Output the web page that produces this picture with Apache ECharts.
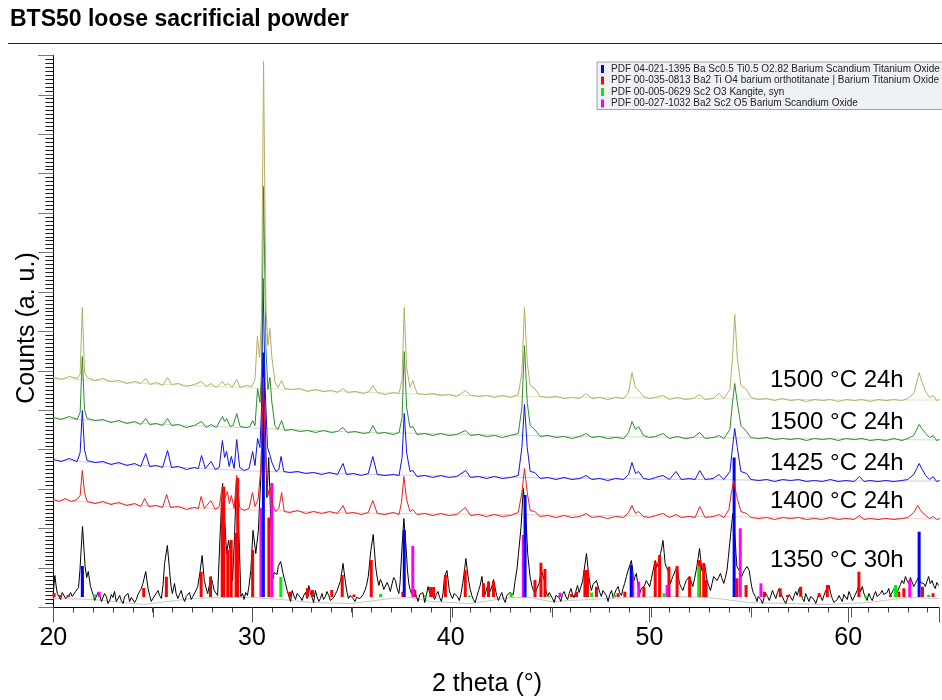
<!DOCTYPE html>
<html><head><meta charset="utf-8">
<script src="https://cdn.jsdelivr.net/npm/echarts@6/dist/echarts.min.js"></script>
<style>html,body{margin:0;padding:0;background:#fff}#c{width:942px;height:700px}</style>
</head><body><div id="c"></div>
<script>
// ---------- DATA ----------
const titleText = 'BTS50 loose sacrificial powder';
const xAxisName = '2 theta (°)';
const yAxisName = 'Counts (a. u.)';
const sampleLabels = ['1500 °C 24h', '1500 °C 24h', '1425 °C 24h', '1400 °C 24h', '1350 °C 30h'];
const refNames = [
  'PDF 04-021-1395 Ba Sc0.5 Ti0.5 O2.82 Barium Scandium Titanium Oxide',
  'PDF 00-035-0813 Ba2 Ti O4 barium orthotitanate | Barium Titanium Oxide',
  'PDF 00-005-0629 Sc2 O3 Kangite, syn',
  'PDF 00-027-1032 Ba2 Sc2 O5 Barium Scandium Oxide'
];
const xMin = 20, xMax = 64.57, xMajor = 10, xMid = 5;
const yMin = 0, yMax = 552.2, yMajor = 39.44;

// pattern 1500 °C 24h (top, olive)
const pat1500a = [[20.0,230],[20.4,228],[20.8,231],[21.2,229],[21.35,233],[21.46,300],[21.57,236],[21.7,230],[22.1,227],[22.5,229],[22.9,226],[23.3,227],[23.7,224],[24.1,226],[24.4,224],[24.65,229],[24.85,223],[25.2,225],[25.5,222],[25.75,230],[25.95,223],[26.3,224],[26.7,221],[27.1,223],[27.46,226],[27.7,221],[27.94,224],[28.2,220],[28.51,226],[28.65,222],[28.8,224],[29.0,220],[29.23,228],[29.4,220],[29.7,222],[30.0,221],[30.15,228],[30.27,271],[30.38,250],[30.48,290],[30.58,546],[30.7,300],[30.8,262],[30.9,279],[31.0,250],[31.15,226],[31.3,220],[31.49,227],[31.65,219],[32.0,218],[32.4,219],[32.8,216],[33.2,218],[33.6,216],[34.0,217],[34.3,215],[34.58,219],[34.8,215],[35.2,216],[35.6,214],[35.9,216],[36.08,222],[36.3,215],[36.7,213],[37.1,215],[37.4,214],[37.55,228],[37.66,300],[37.78,240],[37.95,220],[38.09,227],[38.3,214],[38.7,213],[39.1,214],[39.5,212],[39.9,213],[40.3,211],[40.75,217],[41.0,212],[41.4,211],[41.8,212],[42.2,210],[42.6,212],[43.0,210],[43.4,213],[43.58,235],[43.71,300],[43.85,245],[44.0,222],[44.23,219],[44.5,211],[44.9,210],[45.3,211],[45.7,209],[46.1,210],[46.5,209],[46.81,214],[47.1,209],[47.5,210],[47.9,208],[48.3,210],[48.7,209],[48.95,215],[49.12,235],[49.3,220],[49.5,216],[49.7,211],[50.0,209],[50.3,210],[50.68,212],[51.0,208],[51.4,210],[51.8,208],[52.2,209],[52.53,213],[52.8,208],[53.2,209],[53.49,214],[53.75,209],[54.05,218],[54.18,250],[54.29,293],[54.42,250],[54.6,222],[54.89,218],[55.1,210],[55.5,208],[55.9,209],[56.3,207],[56.7,209],[57.1,207],[57.5,208],[57.9,206],[58.3,208],[58.7,207],[59.1,208],[59.5,206],[59.9,208],[60.3,207],[60.7,208],[61.1,206],[61.5,208],[61.9,207],[62.3,208],[62.7,207],[63.0,209],[63.3,214],[63.45,225],[63.57,235],[63.7,226],[63.9,216],[64.1,210],[64.28,212],[64.45,207],[64.6,208]];
// pattern 1500 °C 24h (second, green)
const pat1500b = [[20.0,190],[20.4,188],[20.8,191],[21.2,188],[21.35,195],[21.46,251],[21.57,198],[21.7,189],[22.1,187],[22.5,188],[22.9,185],[23.3,187],[23.7,184],[24.1,186],[24.4,183],[24.65,189],[24.85,183],[25.2,184],[25.5,182],[25.75,189],[25.95,182],[26.3,183],[26.7,180],[27.1,182],[27.46,186],[27.7,180],[27.94,183],[28.2,180],[28.51,191],[28.62,186],[28.72,189],[28.9,181],[29.05,182],[29.23,194],[29.4,181],[29.7,180],[29.9,181],[30.03,187],[30.15,182],[30.28,219],[30.4,205],[30.49,240],[30.58,421],[30.7,260],[30.8,218],[30.9,230],[31.0,205],[31.15,182],[31.3,178],[31.49,187],[31.65,177],[32.0,178],[32.4,176],[32.8,177],[33.2,175],[33.6,177],[34.0,175],[34.3,176],[34.58,180],[34.8,175],[35.2,176],[35.6,174],[35.9,175],[36.08,182],[36.3,174],[36.7,175],[37.1,173],[37.4,175],[37.55,190],[37.66,256],[37.78,200],[37.95,180],[38.09,181],[38.3,173],[38.7,174],[39.1,172],[39.5,174],[39.9,172],[40.3,173],[40.75,177],[41.0,172],[41.4,173],[41.8,171],[42.2,172],[42.6,170],[43.0,172],[43.4,174],[43.58,200],[43.71,262],[43.85,205],[44.0,182],[44.23,178],[44.5,171],[44.9,172],[45.3,170],[45.7,171],[46.1,169],[46.5,171],[46.81,174],[47.1,170],[47.5,171],[47.9,169],[48.3,170],[48.7,169],[48.95,175],[49.12,186],[49.3,178],[49.45,181],[49.7,172],[50.0,170],[50.3,171],[50.68,174],[51.0,169],[51.4,171],[51.8,169],[52.2,170],[52.53,175],[52.8,169],[53.2,170],[53.49,172],[53.75,169],[54.05,178],[54.18,205],[54.29,224],[54.42,205],[54.6,182],[54.89,176],[55.1,170],[55.5,169],[55.9,170],[56.3,168],[56.7,169],[57.1,168],[57.5,169],[57.9,167],[58.3,169],[58.7,168],[59.1,169],[59.5,167],[59.9,169],[60.3,168],[60.7,169],[61.1,167],[61.5,168],[61.9,167],[62.3,169],[62.7,167],[63.0,169],[63.3,172],[63.45,178],[63.57,183],[63.7,179],[63.9,174],[64.1,170],[64.28,172],[64.45,167],[64.6,168]];
// pattern 1425 °C 24h (blue)
const pat1425 = [[20.0,148],[20.4,146],[20.8,149],[21.2,146],[21.35,155],[21.46,197],[21.57,158],[21.7,147],[22.1,145],[22.5,146],[22.9,143],[23.3,145],[23.7,142],[24.1,144],[24.4,141],[24.65,154],[24.85,141],[25.2,142],[25.5,140],[25.75,157],[25.95,140],[26.3,141],[26.7,138],[27.1,140],[27.3,139],[27.46,152],[27.65,139],[27.94,146],[28.15,138],[28.35,140],[28.51,167],[28.62,150],[28.72,156],[28.85,141],[28.96,151],[29.1,139],[29.23,168],[29.38,140],[29.6,137],[29.85,139],[30.03,156],[30.15,142],[30.28,169],[30.4,160],[30.48,200],[30.55,329],[30.66,220],[30.78,160],[30.88,154],[31.0,145],[31.2,136],[31.35,138],[31.46,151],[31.6,136],[31.9,135],[32.3,136],[32.7,134],[33.1,135],[33.5,133],[33.9,135],[34.3,133],[34.58,144],[34.75,133],[35.1,134],[35.5,132],[35.85,134],[36.08,151],[36.3,133],[36.7,132],[37.1,133],[37.4,132],[37.55,150],[37.66,194],[37.78,155],[37.95,136],[38.09,137],[38.3,131],[38.7,132],[39.1,130],[39.5,132],[39.9,130],[40.3,131],[40.75,137],[41.0,130],[41.4,131],[41.8,129],[42.2,131],[42.6,129],[43.0,130],[43.4,132],[43.58,160],[43.71,203],[43.85,160],[44.0,136],[44.23,135],[44.5,129],[44.9,130],[45.3,128],[45.7,130],[46.1,128],[46.5,129],[46.81,132],[47.1,128],[47.5,129],[47.9,127],[48.3,129],[48.7,128],[48.95,133],[49.12,145],[49.3,134],[49.45,136],[49.7,129],[50.0,128],[50.3,130],[50.68,132],[51.0,128],[51.34,136],[51.6,128],[52.0,129],[52.3,128],[52.53,137],[52.8,128],[53.2,129],[53.49,133],[53.75,128],[54.05,136],[54.18,160],[54.29,179],[54.42,160],[54.6,136],[54.89,134],[55.1,128],[55.5,127],[55.9,128],[56.3,126],[56.7,128],[57.1,127],[57.5,128],[57.9,126],[58.3,127],[58.7,126],[59.1,128],[59.5,126],[59.9,127],[60.3,126],[60.57,131],[60.8,126],[61.1,127],[61.5,126],[61.9,127],[62.3,126],[62.7,127],[63.0,128],[63.3,133],[63.45,139],[63.57,144],[63.7,139],[63.9,132],[64.1,128],[64.28,131],[64.45,126],[64.6,127]];
// pattern 1400 °C 24h (red)
const pat1400 = [[20.0,108],[20.3,106],[20.6,109],[20.9,106],[21.2,108],[21.35,112],[21.46,137],[21.57,115],[21.7,106],[22.1,104],[22.5,106],[22.9,103],[23.3,105],[23.7,102],[24.1,104],[24.4,101],[24.6,109],[24.8,101],[25.2,102],[25.5,100],[25.7,113],[25.9,100],[26.3,101],[26.7,98],[27.1,100],[27.3,99],[27.44,111],[27.6,99],[27.93,107],[28.15,98],[28.35,101],[28.5,121],[28.62,108],[28.76,116],[28.86,104],[28.96,112],[29.1,99],[29.23,132],[29.38,100],[29.6,97],[29.85,99],[30.02,115],[30.15,101],[30.3,108],[30.45,140],[30.57,230],[30.68,150],[30.8,112],[30.9,121],[31.05,102],[31.2,96],[31.35,99],[31.49,115],[31.62,96],[31.9,95],[32.3,97],[32.7,94],[33.1,96],[33.5,94],[33.9,96],[34.3,94],[34.58,102],[34.75,94],[35.1,95],[35.5,93],[35.85,95],[36.08,107],[36.3,94],[36.7,93],[37.1,95],[37.4,93],[37.52,105],[37.64,131],[37.78,108],[37.95,96],[38.09,98],[38.3,93],[38.7,94],[39.1,92],[39.5,94],[39.9,92],[40.3,93],[40.73,100],[41.0,92],[41.4,93],[41.8,91],[42.2,93],[42.6,91],[43.0,92],[43.4,95],[43.58,115],[43.71,139],[43.85,115],[44.0,97],[44.23,96],[44.5,91],[44.9,92],[45.3,90],[45.7,92],[46.1,90],[46.5,91],[46.81,94],[47.1,90],[47.5,91],[47.9,89],[48.3,91],[48.7,90],[48.95,95],[49.12,102],[49.3,94],[49.45,96],[49.7,91],[50.0,90],[50.3,92],[50.68,94],[51.0,90],[51.34,93],[51.6,90],[52.0,91],[52.3,90],[52.53,101],[52.8,90],[53.2,91],[53.49,93],[53.75,90],[54.0,98],[54.12,115],[54.24,127],[54.38,112],[54.6,96],[54.89,94],[55.1,90],[55.5,89],[55.9,90],[56.3,88],[56.7,90],[57.1,89],[57.5,90],[57.9,88],[58.3,89],[58.7,88],[59.1,90],[59.5,88],[59.9,89],[60.3,88],[60.57,92],[60.8,88],[61.1,89],[61.5,88],[61.9,89],[62.3,88],[62.7,89],[63.0,90],[63.3,95],[63.5,102],[63.65,97],[63.9,92],[64.1,89],[64.28,91],[64.45,88],[64.6,89]];
// pattern 1350 °C 30h (black)
const pat1350 = [[20.0,14],[20.04,24],[20.08,32],[20.14,22],[20.2,14],[20.28,11],[20.37,8],[20.45,15],[20.54,13],[20.62,9],[20.7,8],[20.78,12],[20.87,15],[20.95,11],[21.04,9],[21.12,16],[21.2,14],[21.27,20],[21.34,37],[21.47,81],[21.6,41],[21.68,30],[21.76,36],[21.87,21],[22.0,13],[22.08,7],[22.17,9],[22.25,15],[22.34,12],[22.42,6],[22.5,8],[22.58,14],[22.67,11],[22.75,4],[22.84,7],[22.92,13],[23.0,10],[23.08,16],[23.17,6],[23.25,9],[23.34,12],[23.42,7],[23.51,4],[23.59,11],[23.68,9],[23.76,14],[23.84,6],[23.93,10],[24.01,12],[24.09,5],[24.18,8],[24.26,13],[24.35,14],[24.43,19],[24.51,24],[24.65,36],[24.77,19],[24.85,12],[24.93,6],[25.01,9],[25.1,11],[25.18,14],[25.27,17],[25.35,12],[25.44,9],[25.52,22],[25.6,44],[25.74,62],[25.85,37],[25.92,22],[25.99,14],[26.1,24],[26.18,14],[26.27,9],[26.35,13],[26.44,17],[26.52,10],[26.61,6],[26.69,11],[26.77,13],[26.85,15],[26.94,8],[27.02,11],[27.1,12],[27.18,17],[27.27,21],[27.38,35],[27.49,52],[27.6,27],[27.68,20],[27.77,14],[27.85,22],[27.94,31],[28.02,24],[28.1,17],[28.19,15],[28.27,12],[28.39,71],[28.52,124],[28.62,122],[28.72,54],[28.82,67],[28.94,51],[29.02,27],[29.12,71],[29.22,131],[29.32,87],[29.44,11],[29.52,14],[29.6,8],[29.68,15],[29.77,12],[29.85,22],[29.94,37],[30.05,77],[30.19,54],[30.32,77],[30.44,130],[30.52,190],[30.58,250],[30.66,190],[30.75,110],[30.84,150],[30.94,90],[31.05,29],[31.12,35],[31.19,37],[31.26,33],[31.32,41],[31.44,46],[31.56,34],[31.69,24],[31.78,16],[31.86,11],[31.94,6],[32.02,17],[32.1,12],[32.19,8],[32.27,14],[32.36,16],[32.44,10],[32.52,7],[32.6,12],[32.69,15],[32.77,9],[32.86,22],[32.94,14],[33.02,10],[33.1,5],[33.19,17],[33.27,11],[33.36,6],[33.44,9],[33.52,14],[33.6,8],[33.69,11],[33.77,16],[33.86,12],[33.94,7],[34.03,5],[34.11,10],[34.2,12],[34.29,17],[34.37,22],[34.46,27],[34.58,44],[34.71,24],[34.78,15],[34.85,9],[34.93,12],[35.01,14],[35.09,9],[35.18,6],[35.26,10],[35.35,12],[35.43,9],[35.51,7],[35.59,13],[35.68,17],[35.76,22],[35.85,31],[35.98,57],[36.1,73],[36.22,41],[36.3,30],[36.38,22],[36.46,28],[36.55,24],[36.63,18],[36.72,17],[36.8,25],[36.88,21],[36.96,16],[37.05,24],[37.13,30],[37.22,27],[37.3,19],[37.39,14],[37.45,25],[37.52,51],[37.64,89],[37.75,61],[37.82,38],[37.89,24],[37.95,18],[38.02,14],[38.1,20],[38.19,17],[38.27,11],[38.36,6],[38.44,13],[38.52,11],[38.6,15],[38.69,5],[38.77,12],[38.86,21],[38.94,14],[39.02,19],[39.1,12],[39.19,8],[39.27,13],[39.36,16],[39.44,10],[39.53,6],[39.61,14],[39.69,31],[39.81,37],[39.93,17],[40.01,12],[40.09,9],[40.17,14],[40.26,16],[40.34,11],[40.43,7],[40.51,13],[40.6,24],[40.68,35],[40.76,49],[40.84,36],[40.9,27],[40.98,18],[41.06,12],[41.14,8],[41.23,5],[41.31,11],[41.4,17],[41.48,22],[41.57,31],[41.65,18],[41.73,13],[41.81,19],[41.9,26],[41.98,16],[42.07,21],[42.15,28],[42.23,26],[42.31,12],[42.4,7],[42.48,11],[42.57,15],[42.65,9],[42.74,5],[42.82,12],[42.9,10],[42.98,15],[43.07,17],[43.15,13],[43.24,27],[43.33,38],[43.41,54],[43.54,81],[43.65,119],[43.77,97],[43.87,54],[43.99,31],[44.08,22],[44.16,17],[44.24,14],[44.32,12],[44.44,24],[44.57,37],[44.64,32],[44.71,27],[44.8,16],[44.88,11],[44.96,15],[45.04,17],[45.12,9],[45.21,5],[45.29,12],[45.38,14],[45.46,10],[45.54,6],[45.62,13],[45.71,16],[45.79,11],[45.88,8],[45.96,14],[46.05,19],[46.13,13],[46.21,10],[46.29,16],[46.38,22],[46.46,15],[46.55,17],[46.63,26],[46.71,37],[46.83,54],[46.95,31],[47.02,22],[47.08,17],[47.16,23],[47.25,21],[47.33,27],[47.42,26],[47.5,15],[47.58,11],[47.66,17],[47.75,19],[47.83,12],[47.92,6],[48.0,13],[48.09,17],[48.17,10],[48.25,11],[48.33,18],[48.42,21],[48.5,15],[48.59,12],[48.67,19],[48.75,24],[48.84,31],[48.92,37],[49.01,42],[49.09,47],[49.16,36],[49.22,27],[49.28,31],[49.34,34],[49.42,22],[49.51,14],[49.59,19],[49.67,17],[49.75,22],[49.84,27],[49.92,25],[50.01,21],[50.1,29],[50.18,37],[50.24,42],[50.29,47],[50.36,40],[50.43,44],[50.5,50],[50.56,54],[50.62,60],[50.68,67],[50.74,55],[50.79,44],[50.86,40],[50.93,37],[51.0,29],[51.06,24],[51.12,28],[51.18,31],[51.24,34],[51.3,37],[51.35,39],[51.4,41],[51.45,32],[51.51,24],[51.6,20],[51.68,17],[51.76,22],[51.85,27],[51.93,29],[52.01,31],[52.1,26],[52.18,21],[52.27,29],[52.35,37],[52.44,48],[52.52,59],[52.58,48],[52.63,37],[52.7,40],[52.77,44],[52.84,35],[52.9,27],[52.98,22],[53.07,17],[53.15,24],[53.23,31],[53.31,29],[53.4,27],[53.48,30],[53.57,34],[53.65,29],[53.74,24],[53.82,30],[53.9,37],[53.97,50],[54.04,64],[54.09,74],[54.14,84],[54.2,94],[54.25,82],[54.3,71],[54.35,55],[54.4,41],[54.46,39],[54.52,37],[54.58,34],[54.64,31],[54.7,34],[54.77,37],[54.84,39],[54.91,41],[54.96,39],[55.02,37],[55.08,29],[55.14,21],[55.22,15],[55.27,17],[55.35,10],[55.41,6],[55.47,11],[55.52,12],[55.6,8],[55.69,4],[55.77,10],[55.86,14],[55.94,11],[56.03,7],[56.11,12],[56.19,17],[56.27,13],[56.36,9],[56.44,15],[56.53,19],[56.61,14],[56.69,11],[56.77,7],[56.86,4],[56.94,9],[57.03,13],[57.11,10],[57.2,7],[57.28,12],[57.36,16],[57.44,12],[57.53,19],[57.61,15],[57.7,9],[57.78,6],[57.86,14],[57.94,10],[58.03,6],[58.11,11],[58.2,12],[58.28,8],[58.37,4],[58.45,9],[58.53,14],[58.61,11],[58.7,7],[58.78,12],[58.87,17],[58.95,15],[59.04,22],[59.12,14],[59.2,9],[59.28,5],[59.37,3],[59.45,8],[59.54,12],[59.62,9],[59.7,6],[59.78,13],[59.87,11],[59.95,8],[60.04,16],[60.12,12],[60.21,7],[60.29,10],[60.37,12],[60.45,17],[60.54,22],[60.62,16],[60.71,21],[60.79,14],[60.87,11],[60.95,7],[61.04,14],[61.12,10],[61.21,7],[61.29,12],[61.38,16],[61.46,11],[61.54,9],[61.62,14],[61.71,17],[61.79,13],[61.88,11],[61.96,15],[62.04,19],[62.12,12],[62.21,14],[62.29,18],[62.38,22],[62.46,15],[62.55,17],[62.63,23],[62.71,27],[62.8,24],[62.88,31],[62.96,27],[63.05,24],[63.13,30],[63.21,29],[63.3,21],[63.38,24],[63.46,27],[63.55,31],[63.63,25],[63.72,27],[63.8,24],[63.88,21],[63.96,26],[64.05,31],[64.13,24],[64.22,27],[64.3,22],[64.38,19],[64.46,25],[64.55,22]];

// fitted backgrounds
const bg1500a = [[20,229.5],[25,223.5],[30,219.5],[35,215.5],[40,212.5],[45,210.5],[50,209.5],[55,208.5],[60,207.5],[64.6,207.5]];
const bg1500b = [[20,189.5],[25,183.5],[30,179.5],[35,175.5],[40,173.5],[45,171.5],[50,170.5],[55,169.5],[60,168.5],[64.6,167.5]];
const bg1425 = [[20,147.5],[25,141.5],[30,136.5],[35,133.5],[40,131.5],[45,129.5],[50,128.5],[55,127.5],[60,126.5],[64.6,126.5]];
const bg1400 = [[20,107.5],[25,101.5],[30,97.5],[35,94.5],[40,93.5],[45,92.5],[50,91.5],[55,90.5],[60,89.5],[64.6,88.5]];
const bg1350 = [[20,9],[22,8],[24.5,3],[27,9],[28.5,10],[30,10],[31.5,8],[33,5],[35,4],[37,9],[38,10],[39,6],[41,4],[43,10],[44,10],[45,6],[47,8],[49,10],[51,11],[53,10],[55,5],[57,4],[59,3],[61,5],[63,10],[64.6,9]];

// reference stick patterns: [2theta, top]
const stickBase = 10.5;
const sticksBST = [[21.46,41.5],[30.57,255],[37.66,77.5],[43.74,112.5],[49.08,42.5],[54.26,150],[63.57,75.8]];
const sticksBa2TiO4 = [[20.04,14.5],[20.37,12.5],[20.75,12.5],[24.55,19.5],[25.69,30.8],[27.44,35.8],[27.91,30.8],[28.5,104.5],[28.58,120.8],[28.78,57.5],[28.95,67.5],[29.2,74.5],[29.28,129.5],[30.03,57.5],[30.85,90],[31.9,15.8],[32.79,19.5],[33.04,17.5],[34.01,17.5],[34.54,32.5],[35.13,13],[36.0,47.5],[37.59,15.8],[38.19,17.5],[38.99,20.5],[39.14,20.5],[39.73,32.5],[40.73,37.5],[41.65,24.2],[41.9,25.8],[42.15,25.8],[44.24,27.5],[44.54,44.8],[44.74,38.5],[46.08,13.5],[46.33,15.8],[46.75,37.5],[46.88,37.5],[47.33,20.8],[48.42,14.2],[48.76,15.8],[49.72,20.8],[50.29,45.8],[50.51,52.5],[50.98,40.8],[51.39,41.5],[52.02,30.8],[52.52,47.5],[52.73,44.5],[52.85,27.5],[54.4,29.2],[54.86,22.5],[55.78,15.8],[56.58,19.2],[56.95,12.5],[57.61,20.8],[58.54,14.2],[58.95,22.5],[60.54,35.8],[62.13,12.5],[62.55,15.8],[62.8,19.2],[63.74,20.8],[64.27,14.2]];
const sticksSc2O3 = [[22.09,13],[31.45,30.5],[36.47,13.5],[38.73,12.5],[40.93,12],[43.04,14.2],[44.91,12],[47.08,14.8],[48.25,12.5],[50.73,14.2],[52.48,40.8],[57.66,11],[60.87,11.5],[62.38,22.5],[64.05,12.5]];
const sticksBa2Sc2O5 = [[21.47,37.5],[22.31,15.8],[30.45,99.5],[31.0,124.5],[38.09,61.5],[43.65,72.5],[45.5,14.8],[49.16,32.5],[49.46,25.8],[50.89,22.5],[54.57,79.2],[55.61,24.2],[63.1,27.5]];

// ---------- STYLE ----------
const FONT = '"Liberation Sans", Arial, Helvetica, sans-serif';
const C = {olive:'#b5ae62', green:'#2e8b2e', blue:'#1010ee', red:'#ee1c1c', black:'#000000',
  sBlue:'#0000ff', sRed:'#ff0000', sGreen:'#00ee00', sMag:'#ff00ff'};

const chart = echarts.init(document.getElementById('c'), null, {renderer:'canvas'});

function lineSeries(name, data, color, z, width) {
  return {name, type:'line', data, showSymbol:false, symbol:'none', xAxisIndex:0, yAxisIndex:0,
    lineStyle:{color, width: width || 1}, itemStyle:{color}, z, silent:true, animation:false};
}
function stickSeries(name, data, color) {
  return {name, type:'custom', data, xAxisIndex:0, yAxisIndex:0, itemStyle:{color}, z:3, silent:true,
    encode:{x:0, y:1},
    renderItem: function(params, api) {
      const x = api.value(0), top = api.value(1);
      const p1 = api.coord([x, stickBase]);
      const p2 = api.coord([x, top]);
      return {type:'rect', shape:{x:p1[0]-1.5, y:p2[1], width:3, height:p1[1]-p2[1]}, style:{fill:color}};
    }};
}

const gridRect = {left:53.3, right:0, top:55.3, bottom:92.5};
const option = {
  animation:false,
  backgroundColor:'#ffffff',
  textStyle:{fontFamily:FONT},
  grid:[Object.assign({}, gridRect), Object.assign({}, gridRect)],
  xAxis:[
    {type:'value', gridIndex:0, min:xMin, max:xMax, interval:xMajor, position:'bottom',
     axisLine:{show:true, onZero:false, lineStyle:{color:'#000', width:1}},
     axisTick:{show:true, length:15, lineStyle:{color:'#555', width:1}},
     minorTick:{show:true, splitNumber:10, length:5, lineStyle:{color:'#444', width:1}},
     axisLabel:{show:true, fontSize:25, color:'#000', margin:18, fontFamily:FONT,
       formatter: v => (v % 10 === 0 ? String(v) : '')},
     splitLine:{show:false}, minorSplitLine:{show:false}},
    {type:'value', gridIndex:1, min:xMin, max:xMax, interval:xMid, position:'bottom',
     axisLine:{show:false}, axisTick:{show:true, length:10, lineStyle:{color:'#555', width:1}},
     axisLabel:{show:false}, splitLine:{show:false}}
  ],
  yAxis:[
    {type:'value', gridIndex:0, min:yMin, max:yMax, interval:yMajor,
     axisLine:{show:true, onZero:false, lineStyle:{color:'#000', width:1}},
     axisTick:{show:true, length:15, lineStyle:{color:'#777', width:1}},
     minorTick:{show:true, splitNumber:10, length:8, lineStyle:{color:'#222', width:1}},
     axisLabel:{show:false}, splitLine:{show:false}},
    {type:'value', gridIndex:1, min:yMin, max:yMax, show:false}
  ],
  legend:{
    show:true, orient:'vertical', left:597, top:62,
    data:refNames, icon:'rect', itemWidth:3, itemHeight:8, itemGap:1.5,
    backgroundColor:'#eef1f6', borderColor:'#9aa6b8', borderWidth:1, borderRadius:0,
    padding:[2, 9, 1, 4], selectedMode:false,
    textStyle:{fontSize:10, color:'#222', fontFamily:FONT, padding:[0,0,0,2]}
  },
  graphic:[
    {type:'text', left:10, top:8, style:{text:titleText, font:'bold 23px ' + FONT, fill:'#000'}},
    {type:'line', shape:{x1:8, y1:43.5, x2:942, y2:43.5}, style:{stroke:'#222', lineWidth:1.2}},
    {type:'text', x:487, y:684, style:{text:xAxisName, font:'25px ' + FONT, fill:'#000', textAlign:'center', textVerticalAlign:'middle'}},
    {type:'text', x:27, y:328, rotation:Math.PI/2, style:{text:yAxisName, font:'25px ' + FONT, fill:'#000', textAlign:'center', textVerticalAlign:'middle'}},
    {type:'text', x:770, y:380, style:{text:sampleLabels[0], font:'24px ' + FONT, fill:'#000', textVerticalAlign:'middle'}},
    {type:'text', x:770, y:422, style:{text:sampleLabels[1], font:'24px ' + FONT, fill:'#000', textVerticalAlign:'middle'}},
    {type:'text', x:770, y:463, style:{text:sampleLabels[2], font:'24px ' + FONT, fill:'#000', textVerticalAlign:'middle'}},
    {type:'text', x:770, y:501, style:{text:sampleLabels[3], font:'24px ' + FONT, fill:'#000', textVerticalAlign:'middle'}},
    {type:'text', x:770, y:560, style:{text:sampleLabels[4], font:'24px ' + FONT, fill:'#000', textVerticalAlign:'middle'}}
  ],
  series:[
    lineSeries('bg1350', bg1350, '#c8c8c8', 1),
    lineSeries('bg1400', bg1400, '#f1cccc', 1),
    lineSeries('bg1425', bg1425, '#ccccf0', 1),
    lineSeries('bg1500b', bg1500b, '#c8e0c8', 1),
    lineSeries('bg1500a', bg1500a, '#e6e2c6', 1),
    lineSeries(sampleLabels[4], pat1350, C.black, 2),
    stickSeries(refNames[1], sticksBa2TiO4, C.sRed),
    stickSeries(refNames[2], sticksSc2O3, C.sGreen),
    stickSeries(refNames[3], sticksBa2Sc2O5, C.sMag),
    stickSeries(refNames[0], sticksBST, C.sBlue),
    lineSeries(sampleLabels[3], pat1400, C.red, 4),
    lineSeries(sampleLabels[2], pat1425, C.blue, 5),
    lineSeries(sampleLabels[1], pat1500b, C.green, 6),
    lineSeries(sampleLabels[0], pat1500a, C.olive, 7)
  ]
};
chart.setOption(option);
</script>
</body></html>
